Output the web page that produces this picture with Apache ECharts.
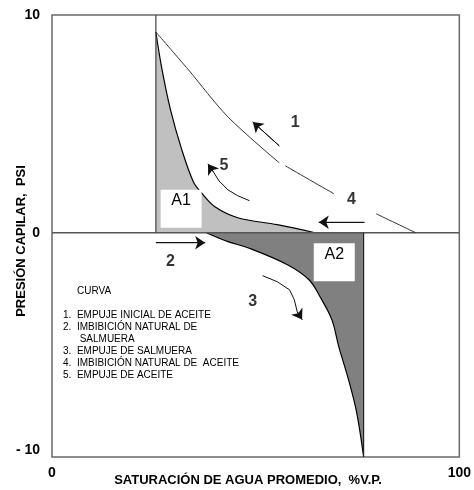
<!DOCTYPE html>
<html>
<head>
<meta charset="utf-8">
<script src="https://cdn.jsdelivr.net/npm/echarts@6/dist/echarts.min.js"></script>
<style>html,body{margin:0;padding:0;background:#fff}#c{width:474px;height:490px}</style>
</head>
<body>
<div id="c"></div>
<script>
// ---- data ----
const xTicks = [0, 100];
const yTicks = [-10, 0, 10];
// Curve 1: empuje inicial de aceite (breaks where label covers it)
const curve1Sw = [25.5, 33.5, 43.2, 55.8, null, 57.3, 69.2, null, 79.6, 89.3];
const curve1Pc = [9.22, 7.48, 5.32, 3.21, null, 3.07, 1.79, null, 0.87, 0.0];
// A1 boundary curve
const curve2Sw = [25.5, 26.9, 29.1, 31.8, 34.7, 36.7, 40.0, 45.6, 55.3, 64.6];
const curve2Pc = [9.22, 7.61, 5.64, 3.85, 2.34, 1.83, 1.19, 0.69, 0.37, 0.0];
// A2 boundary curve
const curve3Sw = [37.9, 43.2, 48.1, 57.8, 63.1, 65.8, 68.7, 70.4, 72.8, 74.8, 76.5];
const curve3Pc = [0.0, -0.41, -0.69, -1.47, -2.16, -2.94, -3.99, -5.23, -6.75, -8.26, -10.28];
// reference lines
const swiLineSw = [25.5, 25.5], swiLinePc = [0, 10];
const sorLineSw = [76.5, 76.5], sorLinePc = [-10.3, 0];
const zeroLineSw = [0, 100], zeroLinePc = [0, 0];
// arrows (direction annotations)
const arrow1Sw = [55.8, 49.3], arrow1Pc = [3.99, 5.09];
const arrow2Sw = [25.5, 37.6], arrow2Pc = [-0.46, -0.46];
const arrow3Sw = [51.7, 55.3, 58.3, 59.5, 60.2, 61.4], arrow3Pc = [-1.97, -2.25, -2.62, -3.08, -3.63, -3.99];
const arrow4Sw = [76.7, 65.5], arrow4Pc = [0.48, 0.48];
const arrow5Sw = [48.5, 45.6, 43.2, 41.0, 39.6, 38.3], arrow5Pc = [1.47, 1.70, 1.97, 2.38, 2.80, 3.16];
// curve number labels
const numNames = ['1', '2', '3', '4', '5'];
const numSw = [59.7, 29.1, 49.3, 73.5, 42.2];
const numPc = [5.04, -1.33, -3.17, 1.51, 3.07];
// area labels
const areaNames = ['A1', 'A2'];
const areaSw = [31.7, 69.3];
const areaPc = [1.10, -1.36];
// legend text
const legendTitle = 'CURVA';
const legendLines = [
  '1.  EMPUJE INICIAL DE ACEITE',
  '2.  IMBIBICIÓN NATURAL DE',
  '      SALMUERA',
  '3.  EMPUJE DE SALMUERA',
  '4.  IMBIBICIÓN NATURAL DE  ACEITE',
  '5.  EMPUJE DE ACEITE'
];
const xTitle = 'SATURACIÓN DE AGUA PROMEDIO,  %V.P.';
const yTitle = 'PRESIÓN CAPILAR,  PSI';

// ---- build ----
const zip = (a, b) => a.map((v, i) => (v === null ? [null, null] : [v, b[i]]));
const F = 'Arial, "Liberation Sans", sans-serif';
const arrows = [[arrow1Sw, arrow1Pc], [arrow2Sw, arrow2Pc], [arrow3Sw, arrow3Pc], [arrow4Sw, arrow4Pc], [arrow5Sw, arrow5Pc]];
const arrowBodies = arrows.map(a => ({coords: zip(a[0], a[1])}));
const arrowHeads = arrows.map(a => {
  const c = zip(a[0], a[1]);
  return {coords: [c[c.length - 2], c[c.length - 1]]};
});

const chart = echarts.init(document.getElementById('c'), null, {renderer: 'canvas'});
const legendGraphics = [{type: 'text', left: 77, top: 286, style: {text: legendTitle, font: '10px ' + F, fill: '#000'}}];
const legendY = [310, 322, 334, 346, 358, 370];
legendLines.forEach((t, i) => legendGraphics.push({type: 'text', left: 63, top: legendY[i], style: {text: t, font: '10px ' + F, fill: '#000'}}));

chart.setOption({
  animation: false,
  grid: {left: 52, top: 15, right: 10, bottom: 33, show: true, borderColor: '#6a6a6a', borderWidth: 1.5, backgroundColor: '#fff'},
  xAxis: {type: 'value', min: 0, max: 100,
    axisLine: {show: false}, axisTick: {show: false}, splitLine: {show: false},
    axisLabel: {customValues: xTicks, margin: 9, color: '#000', fontWeight: 'bold', fontSize: 14, fontFamily: F}},
  yAxis: {type: 'value', min: -10.3, max: 10,
    axisLine: {show: false}, axisTick: {show: false}, splitLine: {show: false},
    axisLabel: {customValues: yTicks, margin: 12, color: '#000', fontWeight: 'bold', fontSize: 14, fontFamily: F,
      formatter: v => (v === -10 ? '- 10' : String(v))}},
  series: [
    {type: 'line', data: zip(curve2Sw, curve2Pc), symbol: 'none', smooth: 0.35,
      lineStyle: {color: '#000', width: 1.2}, areaStyle: {color: '#c0c0c0', opacity: 1}, z: 2},
    {type: 'line', data: zip(curve3Sw, curve3Pc), symbol: 'none', smooth: 0.35,
      lineStyle: {color: '#000', width: 1.2}, areaStyle: {color: '#808080', opacity: 1}, z: 2},
    {type: 'line', data: zip(zeroLineSw, zeroLinePc), symbol: 'none', lineStyle: {color: '#555', width: 1.5}, z: 3},
    {type: 'line', data: zip(swiLineSw, swiLinePc), symbol: 'none', lineStyle: {color: '#444', width: 1.2}, z: 3},
    {type: 'line', data: zip(sorLineSw, sorLinePc), symbol: 'none', lineStyle: {color: '#222', width: 1.2}, z: 3},
    {type: 'line', data: zip(curve1Sw, curve1Pc), symbol: 'none', smooth: 0.3, connectNulls: false,
      lineStyle: {color: '#333', width: 1}, z: 3},
    {type: 'lines', coordinateSystem: 'cartesian2d', polyline: true, z: 4,
      lineStyle: {color: '#111', width: 1, opacity: 1}, data: arrowBodies},
    {type: 'lines', coordinateSystem: 'cartesian2d', polyline: false, z: 4,
      symbol: ['none', 'arrow'], symbolSize: 10,
      lineStyle: {color: '#111', width: 1, opacity: 1}, data: arrowHeads},
    {type: 'scatter', symbol: 'rect', symbolSize: [41, 38], itemStyle: {color: '#fff', opacity: 1}, z: 5,
      data: areaNames.map((n, i) => ({name: n, value: [areaSw[i], areaPc[i]]})),
      label: {show: true, position: 'inside', offset: [0, -8], formatter: '{b}', color: '#000', fontSize: 16, fontFamily: F}},
    {type: 'scatter', symbolSize: 0, z: 6,
      data: numNames.map((n, i) => ({name: n, value: [numSw[i], numPc[i]]})),
      label: {show: true, position: 'inside', formatter: '{b}', color: '#000', fontSize: 16, fontWeight: 'bold', fontFamily: F}}
  ],
  graphic: legendGraphics.concat([
    {type: 'text', x: 248, y: 480, style: {text: xTitle, font: 'bold 13px ' + F, fill: '#000', align: 'center', verticalAlign: 'middle'}},
    {type: 'text', x: 21, y: 241, rotation: Math.PI / 2, style: {text: yTitle, font: 'bold 13px ' + F, fill: '#000', align: 'center', verticalAlign: 'middle'}}
  ])
});
</script>
</body>
</html>
